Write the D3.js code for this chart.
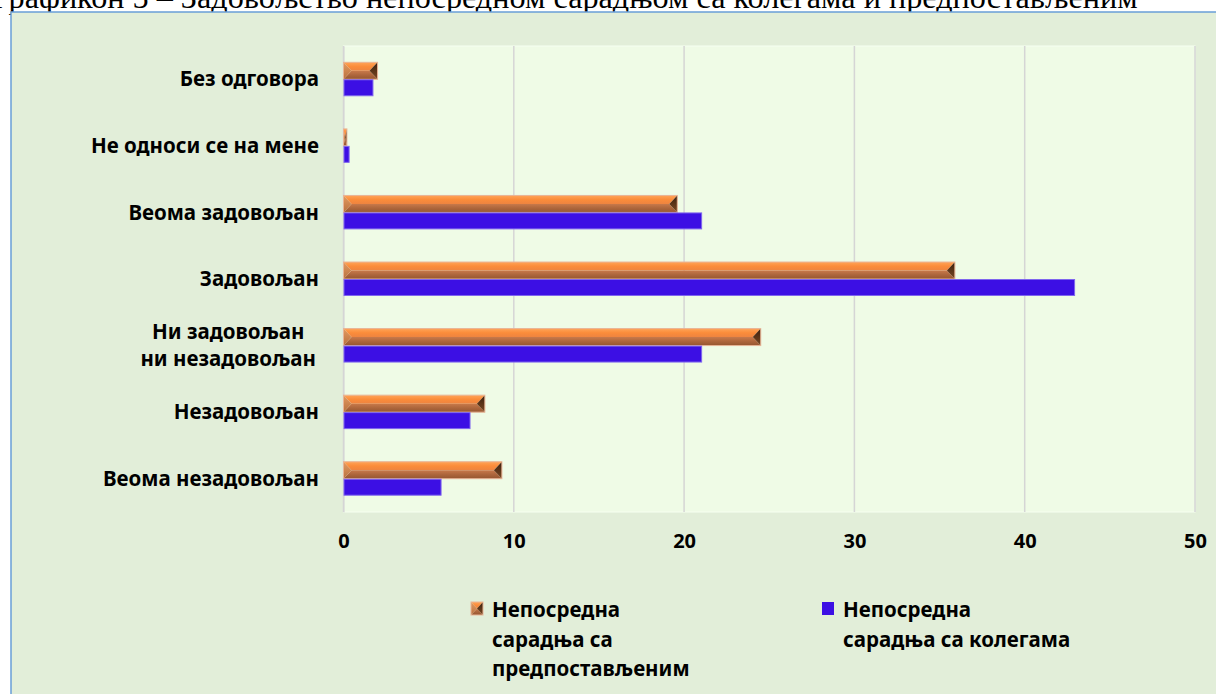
<!DOCTYPE html>
<html>
<head>
<meta charset="utf-8">
<script src="https://cdn.jsdelivr.net/npm/d3@7"></script>
<style>
  body { margin: 0; background: #fff; }
  svg { display: block; }
</style>
</head>
<body>
<div id="chart"></div>
<script>
// values (percent)
const title = 'Графикон 5 – Задовољство непосредном сарадњом са колегама и предпостављеним';
const categories = [
  'Без одговора',
  'Не односи се на мене',
  'Веома задовољан',
  'Задовољан',
  'Ни задовољан\nни незадовољан',
  'Незадовољан',
  'Веома незадовољан',
];
const superiors = [2.0, 0.2, 19.6, 35.9, 24.5, 8.3, 9.3];
const colleagues = [1.7, 0.3, 21.0, 42.9, 21.0, 7.4, 5.7];
const xTicks = [0, 10, 20, 30, 40, 50];
const seriesKeys = ['superiors', 'colleagues'];
const legendLines = [
  ['Непосредна', 'сарадња са', 'предпостављеним'],
  ['Непосредна', 'сарадња са колегама'],
];

const W = 1216, H = 694;
const plot = { left: 343.5, right: 1195, top: 46, bottom: 512 };
const font = '"Noto Sans", sans-serif';
const labelSize = '20.5px';

const data = categories.map((c, i) => ({ cat: c, superiors: superiors[i], colleagues: colleagues[i] }));

const svg = d3.select('#chart').append('svg')
  .attr('width', W)
  .attr('height', H);

const defs = svg.append('defs');

// gradients for the bevelled orange bars
function vGrad(id, stops) {
  const g = defs.append('linearGradient').attr('id', id)
    .attr('x1', 0).attr('y1', 0).attr('x2', 0).attr('y2', 1);
  stops.forEach(([o, c]) => g.append('stop').attr('offset', o).attr('stop-color', c));
}
vGrad('bevTop', [[0, '#ffa458'], [0.5, '#fb8c3a'], [1, '#ee8440']]);
vGrad('bevBot', [[0, '#c8794a'], [0.5, '#ad663c'], [1, '#955630']]);
vGrad('bevRight', [[0, '#3a2010'], [0.5, '#5b3418'], [1, '#7a4722']]);
vGrad('bevLeft', [[0, '#e49a60'], [1, '#b8703f']]);

// title, clipped at the top of the page like in the source
const titleText = svg.append('text')
  .attr('x', -8)
  .attr('y', 8)
  .style('font-family', '"Liberation Serif", "Times New Roman", serif')
  .style('font-size', '30px')
  .attr('fill', '#000')
  .text(title);
const tw = titleText.node().getComputedTextLength();
titleText.style('font-size', `${30 * 1146 / tw}px`);

// chart frame
svg.append('rect')
  .attr('x', 11)
  .attr('y', 12)
  .attr('width', W)
  .attr('height', H)
  .attr('fill', '#e2eed9')
  .attr('stroke', '#6a9fd8')
  .attr('stroke-width', 1.5);

// plot area
svg.append('rect')
  .attr('x', plot.left)
  .attr('y', plot.top)
  .attr('width', plot.right - plot.left)
  .attr('height', plot.bottom - plot.top)
  .attr('fill', '#effbe6')
  .attr('stroke', '#f6fff1');

const x = d3.scaleLinear().domain([0, 50]).range([plot.left, plot.right]);
const y = d3.scaleBand().domain(categories).range([plot.top, plot.bottom])
  .paddingInner(0.49).paddingOuter(0.245);
const ySub = d3.scaleBand().domain(seriesKeys).range([0, y.bandwidth()]);

// gridlines
svg.append('g')
  .selectAll('line')
  .data(xTicks)
  .join('line')
  .attr('x1', (d) => x(d))
  .attr('x2', (d) => x(d))
  .attr('y1', plot.top)
  .attr('y2', plot.bottom)
  .attr('stroke', '#d5d5d5')
  .attr('stroke-width', 1.5);

// x axis labels
const xAxis = svg.append('g')
  .attr('transform', `translate(0,${plot.bottom})`)
  .call(d3.axisBottom(x).tickValues(xTicks).tickSize(0).tickPadding(22));
xAxis.select('.domain').remove();
xAxis.selectAll('text')
  .style('font-family', font)
  .style('font-size', '20px')
  .style('font-weight', 'bold')
  .attr('fill', '#000');

// category labels
const yAxis = svg.append('g')
  .attr('transform', `translate(${plot.left},0)`)
  .call(d3.axisLeft(y).tickSize(0).tickFormat(''));
yAxis.select('.domain').attr('stroke', '#d5d5d5');

const labels = svg.append('g')
  .selectAll('text')
  .data(categories)
  .join('text')
  .style('font-family', font)
  .style('font-size', labelSize)
  .style('font-weight', 'bold')
  .attr('fill', '#000');

labels.each(function (d) {
  const lines = d.split('\n');
  const t = d3.select(this);
  const cy = y(d) + y.bandwidth() / 2;
  const lh = 27;
  lines.forEach((ln, i) => {
    t.append('tspan')
      .attr('y', cy + (i - (lines.length - 1) / 2) * lh)
      .attr('dy', '0.35em')
      .text(ln);
  });
  if (lines.length === 1) {
    t.attr('text-anchor', 'end').selectAll('tspan').attr('x', 319);
  } else {
    // centred block, right edge of widest line at the label edge
    const widths = [];
    t.selectAll('tspan').each(function () { widths.push(this.getComputedTextLength()); });
    const mw = d3.max(widths);
    t.attr('text-anchor', 'middle').selectAll('tspan').attr('x', 316 - mw / 2);
  }
});

// bevelled bar, built from the scaled corners
function bevelBar(g, x0, x1, y0, h) {
  const w = x1 - x0;
  const b = Math.min(8, w / 2);
  const ym = y0 + h / 2, y1 = y0 + h;
  const poly = (pts) => 'M' + pts.map((p) => p.join(',')).join('L') + 'Z';
  g.append('path').attr('d', poly([[x0, y0], [x1, y0], [x1 - b, ym], [x0 + b, ym]])).attr('fill', 'url(#bevTop)');
  g.append('path').attr('d', poly([[x0 + b, ym], [x1 - b, ym], [x1, y1], [x0, y1]])).attr('fill', 'url(#bevBot)');
  g.append('path').attr('d', poly([[x1, y0], [x1, y1], [x1 - b, ym]])).attr('fill', 'url(#bevRight)');
  g.append('path').attr('d', poly([[x0, y0], [x0 + b, ym], [x0, y1]])).attr('fill', 'url(#bevLeft)');
  g.append('rect')
    .attr('x', x0).attr('y', y0).attr('width', w).attr('height', h)
    .attr('fill', 'none').attr('stroke', '#e8b496').attr('stroke-width', 1);
}

const bars = svg.append('g');

// orange (superiors)
data.forEach((d) => {
  const g = bars.append('g');
  bevelBar(g, x(0), x(d.superiors), y(d.cat) + ySub('superiors'), ySub.bandwidth());
});

// blue (colleagues)
bars.selectAll('rect.col')
  .data(data)
  .join('rect')
  .attr('class', 'col')
  .attr('x', x(0) + 0.5)
  .attr('y', (d) => y(d.cat) + ySub('colleagues') + 0.5)
  .attr('width', (d) => x(d.colleagues) - x(0))
  .attr('height', ySub.bandwidth() - 1)
  .attr('fill', '#3c0fe4')
  .attr('stroke', '#7f66ee')
  .attr('stroke-width', 1);

// legend
const legendX = [471, 822];
const legend = svg.append('g');
legendLines.forEach((lines, i) => {
  const lg = legend.append('g').attr('transform', `translate(${legendX[i]},602)`);
  if (i === 0) {
    bevelBar(lg, 0, 12, 0, 13);
  } else {
    lg.append('rect').attr('width', 12).attr('height', 13).attr('fill', '#3c0fe4');
  }
  const t = lg.append('text')
    .style('font-family', font)
    .style('font-size', labelSize)
    .style('font-weight', 'bold')
    .attr('fill', '#000');
  lines.forEach((ln, j) => {
    t.append('tspan')
      .attr('x', 21)
      .attr('y', 8 + j * 29.5)
      .attr('dy', '0.35em')
      .text(ln);
  });
});
</script>
</body>
</html>
